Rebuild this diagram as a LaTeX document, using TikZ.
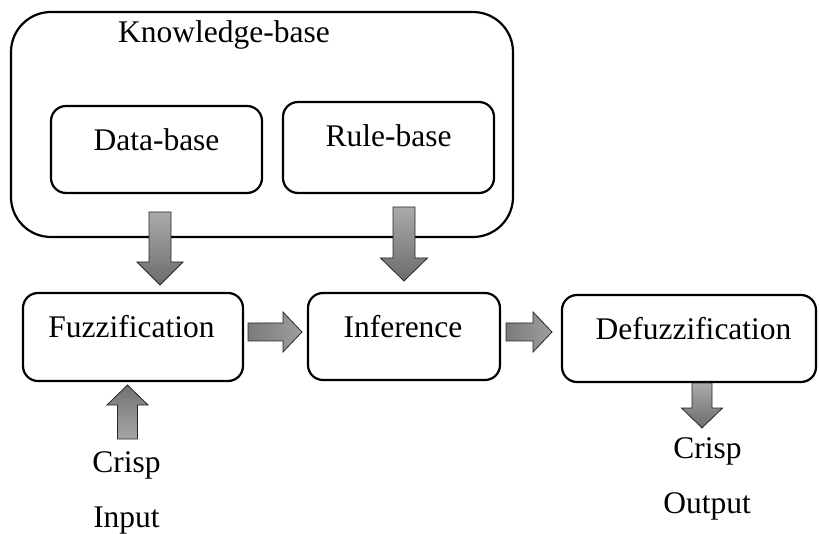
\documentclass[tikz,border=0pt]{standalone}
\usepackage{fontspec}
\setmainfont{Liberation Serif}
\begin{document}
\begin{tikzpicture}[x=1pt,y=-1pt,
  box/.style={draw=black, line width=2.2pt, rounded corners=15pt, inner sep=0pt},
  lbl/.style={anchor=base, inner sep=0pt, font=\fontsize{31.5}{36}\selectfont},
  blk/.style={draw=black!85, line width=0.8pt}]
\useasboundingbox (0,0) rectangle (819,534);
\newcommand\vblockarrow[8]{% cx, tail, headstart, tip, shaft half, head half, tailcolor, tipcolor
  \path[blk, top color=#7, bottom color=#8]
    (#1-#5,#2) -- (#1+#5,#2) -- (#1+#5,#3) -- (#1+#6,#3) -- (#1,#4)
    -- (#1-#6,#3) -- (#1-#5,#3) -- cycle;}
\newcommand\hblockarrow[8]{% cy, tail, headstart, tip, shaft half, head half, leftcolor, rightcolor
  \path[blk, left color=#7, right color=#8]
    (#2,#1-#5) -- (#3,#1-#5) -- (#3,#1-#6) -- (#4,#1) -- (#3,#1+#6)
    -- (#3,#1+#5) -- (#2,#1+#5) -- cycle;}
% boxes
\node[box, rounded corners=40pt, minimum width=502pt, minimum height=225pt] (kb) at (262,124.5) {};
\node[box, minimum width=211pt, minimum height=87pt] (db) at (156.5,149.5) {};
\node[box, minimum width=211pt, minimum height=91pt] (rb) at (388.5,147.5) {};
\node[box, minimum width=220pt, minimum height=88pt] (fz) at (133,337) {};
\node[box, minimum width=192pt, minimum height=87pt] (inf) at (404,336.5) {};
\node[box, minimum width=254pt, minimum height=87pt] (dfz) at (689,338.5) {};
% labels
\node[lbl] (tkb) at (224,43) {Knowledge-base};
\node[lbl] (tdb) at (156.5,151) {Data-base};
\node[lbl] (trb) at (388.5,147) {Rule-base};
\node[lbl] (tfz) at (131.5,338) {Fuzzification};
\node[lbl] (tinf) at (403,338) {Inference};
\node[lbl] (tdfz) at (693.5,340) {Defuzzification};
\node[lbl] (cin) at (126.5,472) {Crisp};
\node[lbl] (iin) at (126.5,527) {Input};
\node[lbl] (cout) at (707.5,458) {Crisp};
\node[lbl] (oout) at (707,513) {Output};
% block arrows
\vblockarrow{160}{212}{262}{285}{11}{23}{black!33}{black!58}
\vblockarrow{404}{207}{258}{281}{11}{23.5}{black!33}{black!58}
\hblockarrow{332}{248}{283}{302}{9}{20}{black!52}{black!38}
\hblockarrow{332}{506}{533}{552}{9}{20}{black!52}{black!38}
\vblockarrow{702}{383}{408}{428}{10}{20.5}{black!33}{black!58}
\vblockarrow{127.5}{439}{405}{385}{10}{20.5}{black!55}{black!35}
\end{tikzpicture}
\end{document}
